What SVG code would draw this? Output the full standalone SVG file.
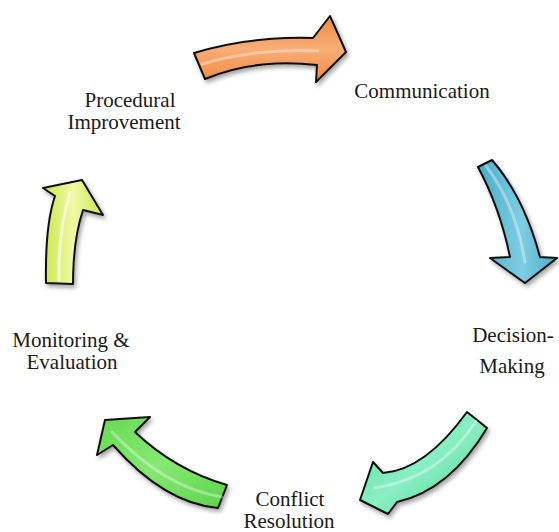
<svg xmlns="http://www.w3.org/2000/svg" width="559" height="532" viewBox="0 0 559 532">
<style>
.lbl{font-family:"Liberation Serif","Times New Roman",serif;font-size:21px;fill:#1a1a1a;text-anchor:middle}
.arrow{stroke:#111;stroke-width:2;stroke-linejoin:round;filter:url(#sh)}
.hl{fill:none;stroke:#fff;stroke-width:3;stroke-linecap:round;opacity:0.35}
</style>
<defs>
<filter id="sh" x="-20%" y="-20%" width="150%" height="150%">
<feDropShadow dx="2" dy="3" stdDeviation="2" flood-color="#000" flood-opacity="0.35"/>
</filter>
<linearGradient id="gOr" x1="0" y1="0" x2="0" y2="1">
<stop offset="0" stop-color="#EE8A44"/><stop offset="0.5" stop-color="#F9AE77"/><stop offset="1" stop-color="#EE8A44"/>
</linearGradient>
<linearGradient id="gBl" x1="0" y1="0" x2="1" y2="0">
<stop offset="0" stop-color="#47ABC8"/><stop offset="0.55" stop-color="#7FCEE3"/><stop offset="1" stop-color="#47ABC8"/>
</linearGradient>
<linearGradient id="gTe" x1="0" y1="0" x2="1" y2="1">
<stop offset="0" stop-color="#56DCA0"/><stop offset="0.5" stop-color="#8AEFC3"/><stop offset="1" stop-color="#4FD597"/>
</linearGradient>
<linearGradient id="gGr" x1="0" y1="0" x2="1" y2="1">
<stop offset="0" stop-color="#66DA52"/><stop offset="0.5" stop-color="#86E875"/><stop offset="1" stop-color="#5DD349"/>
</linearGradient>
<linearGradient id="gYe" x1="0" y1="0" x2="1" y2="0">
<stop offset="0" stop-color="#CBE64C"/><stop offset="0.5" stop-color="#EEFAA6"/><stop offset="1" stop-color="#CBE64C"/>
</linearGradient>
</defs>
<g id="connectors">
<g id="arrow-communication">
<path class="arrow" fill="url(#gOr)" d="M194,53 Q250,36 313,38 L330,16 L346,52 L316,82 L317,65 Q255,58 205,79 Z"/>
<path class="hl" d="M202,64 Q255,48 318,51"/>
</g>
<g id="arrow-decision">
<path class="arrow" fill="url(#gBl)" d="M478,167 L492,160 Q524,197 540,257 L557,258 L525,283 L490,258 L510,257 Q500,208 478,167 Z"/>
<path class="hl" d="M486,166 Q516,205 525,262"/>
</g>
<g id="arrow-conflict">
<path class="arrow" fill="url(#gTe)" d="M467,412 L487,428 Q450,490 397,502 L388,514 L360,500 L373,462 L383,473 Q425,470 467,412 Z"/>
<path class="hl" d="M476,421 Q440,478 375,488"/>
</g>
<g id="arrow-monitoring">
<path class="arrow" fill="url(#gGr)" d="M105,420 L150,417 L135,432 Q175,470 227,485 L218,508 Q164,503 113,445 L97,455 Z"/>
<path class="hl" d="M112,432 Q165,488 222,497"/>
</g>
<g id="arrow-procedural">
<path class="arrow" fill="url(#gYe)" d="M46,283 Q45,225 55,196 L43,188 L82,180 L103,215 L83,210 Q73,240 73,284 Z"/>
<path class="hl" style="opacity:0.6" d="M59,280 Q58,230 70,193"/>
</g>
</g>
<g id="node-communication"><text class="lbl" x="422" y="98">Communication</text></g>
<g id="node-decision"><text class="lbl" x="513" y="342">Decision-</text><text class="lbl" x="512" y="373">Making</text></g>
<g id="node-conflict"><text class="lbl" x="290" y="506">Conflict</text><text class="lbl" x="289" y="528">Resolution</text></g>
<g id="node-monitoring"><text class="lbl" x="71" y="347">Monitoring &amp;</text><text class="lbl" x="72" y="369">Evaluation</text></g>
<g id="node-procedural"><text class="lbl" x="130" y="107">Procedural</text><text class="lbl" x="124" y="129">Improvement</text></g>
</svg>
